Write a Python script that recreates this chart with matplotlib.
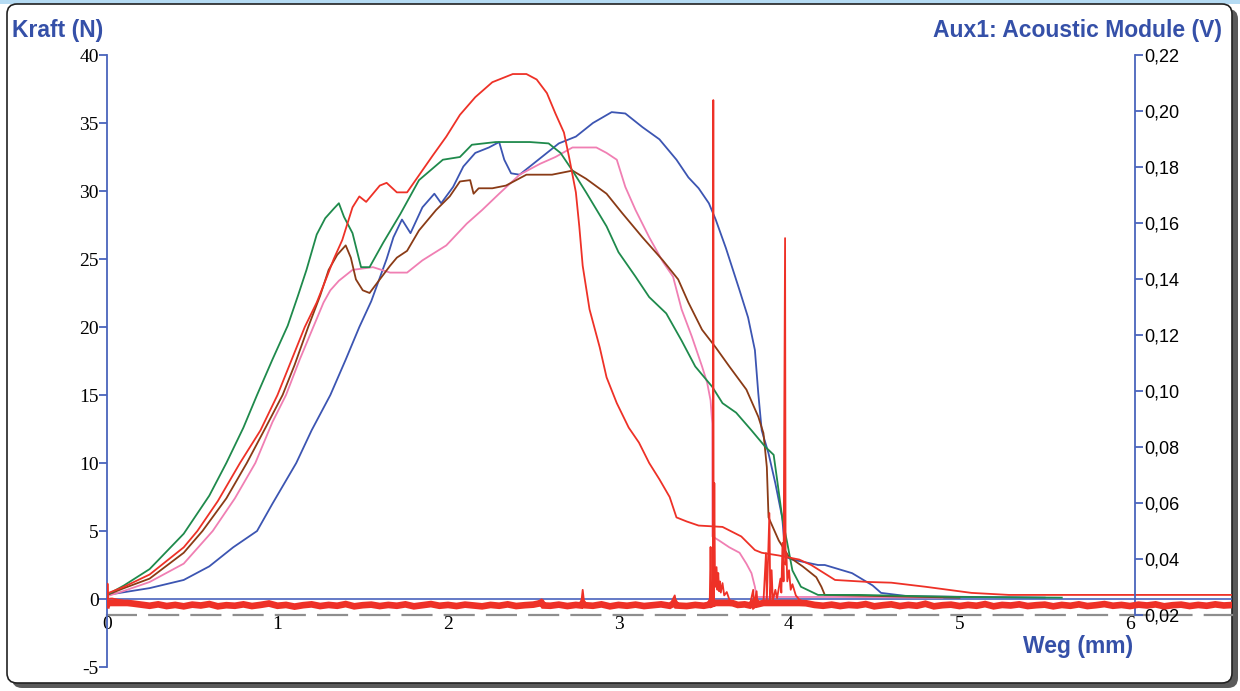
import numpy as np
import matplotlib
matplotlib.use("Agg")
import matplotlib.pyplot as plt
from matplotlib.patches import FancyBboxPatch, Rectangle
from matplotlib.transforms import IdentityTransform
from matplotlib.ticker import FixedLocator, FuncFormatter

# ---------------- data ----------------
green_x = [0, 0.10, 0.25, 0.45, 0.60, 0.70, 0.80, 0.88, 0.97, 1.06, 1.12, 1.17, 1.23, 1.28, 1.33, 1.36,
           1.39, 1.44, 1.49, 1.54, 1.62, 1.72, 1.83, 1.97, 2.07, 2.14, 2.28, 2.48, 2.59, 2.66, 2.73, 2.81,
           2.93, 3.00, 3.10, 3.18, 3.28, 3.37, 3.45, 3.55, 3.61, 3.69, 3.78, 3.86, 3.91, 3.93, 3.96, 3.99,
           4.02, 4.07, 4.17, 4.41, 5.0, 5.6]
green_y = [0.3, 1.0, 2.2, 4.8, 7.6, 10.0, 12.6, 15.0, 17.6, 20.1, 22.3, 24.2, 26.8, 28.0, 28.7, 29.1,
           28.1, 26.9, 24.4, 24.4, 26.2, 28.3, 30.8, 32.3, 32.5, 33.4, 33.6, 33.6, 33.5, 32.8, 31.5, 29.9,
           27.4, 25.5, 23.7, 22.2, 21.0, 19.0, 17.1, 15.6, 14.4, 13.7, 12.4, 11.2, 10.6, 8.8, 6.0, 4.1,
           2.1, 0.9, 0.3, 0.3, 0.15, 0.1]

red_x = [0, 0.10, 0.25, 0.45, 0.53, 0.65, 0.78, 0.90, 1.00, 1.08, 1.16, 1.23, 1.29, 1.33, 1.38, 1.44,
         1.48, 1.52, 1.56, 1.60, 1.64, 1.70, 1.76, 1.81, 1.91, 1.99, 2.07, 2.16, 2.26, 2.32, 2.38, 2.46,
         2.52, 2.58, 2.63, 2.68, 2.71, 2.75, 2.77, 2.79, 2.83, 2.89, 2.93, 2.99, 3.06, 3.12, 3.18, 3.24,
         3.30, 3.34, 3.40, 3.47, 3.61, 3.72, 3.80, 3.84, 3.94, 4.06, 4.13, 4.27, 4.47, 4.60, 4.80, 4.95,
         5.07, 5.29, 6.0, 6.61]
red_y = [0.4, 0.9, 1.8, 3.8, 5.0, 7.2, 10.0, 12.4, 15.0, 17.5, 20.0, 21.8, 23.7, 25.0, 26.4, 28.8,
         29.6, 29.2, 29.8, 30.4, 30.6, 29.9, 29.9, 30.8, 32.6, 34.0, 35.6, 36.9, 38.0, 38.3, 38.6, 38.6,
         38.2, 37.2, 35.7, 34.3, 32.5, 29.9, 27.4, 24.5, 21.3, 18.5, 16.3, 14.4, 12.6, 11.5, 10.0, 8.8,
         7.5, 6.0, 5.7, 5.4, 5.3, 4.6, 3.6, 3.4, 3.2, 2.9, 2.5, 1.4, 1.25, 1.2, 0.9, 0.65,
         0.45, 0.3, 0.3, 0.3]

brown_x = [0, 0.10, 0.25, 0.45, 0.56, 0.70, 0.82, 0.93, 1.03, 1.10, 1.18, 1.25, 1.30, 1.35, 1.40, 1.43,
           1.46, 1.50, 1.54, 1.60, 1.66, 1.70, 1.76, 1.83, 1.93, 2.01, 2.07, 2.13, 2.15, 2.18, 2.26, 2.34,
           2.46, 2.61, 2.73, 2.81, 2.93, 3.02, 3.14, 3.26, 3.35, 3.41, 3.49, 3.57, 3.65, 3.75, 3.82, 3.85,
           3.87, 3.88, 3.94, 4.00, 4.08, 4.16, 4.19, 4.21, 4.6, 5.0]
brown_y = [0.3, 0.8, 1.5, 3.4, 5.0, 7.4, 10.0, 12.6, 15.0, 17.2, 20.0, 22.3, 24.2, 25.3, 26.0, 25.1,
           23.5, 22.7, 22.5, 23.5, 24.5, 25.1, 25.6, 27.1, 28.6, 29.6, 30.7, 30.8, 29.8, 30.2, 30.2, 30.4,
           31.2, 31.2, 31.5, 30.9, 29.8, 28.4, 26.6, 24.9, 23.5, 21.8, 19.8, 18.5, 17.1, 15.4, 13.4, 12.2,
           9.7, 6.0, 4.3, 3.1, 2.4, 1.6, 0.9, 0.3, 0.2, 0.1]

pink_x = [0, 0.10, 0.25, 0.45, 0.62, 0.75, 0.87, 0.97, 1.05, 1.13, 1.21, 1.27, 1.31, 1.36, 1.44, 1.56,
          1.66, 1.76, 1.85, 1.99, 2.11, 2.20, 2.30, 2.42, 2.54, 2.63, 2.73, 2.81, 2.87, 2.93, 2.99, 3.04,
          3.10, 3.18, 3.26, 3.32, 3.37, 3.43, 3.49, 3.52, 3.54, 3.55, 3.551, 3.59, 3.65, 3.71, 3.75, 3.78,
          3.80, 3.81, 4.3, 4.9]
pink_y = [0.2, 0.6, 1.25, 2.6, 5.0, 7.4, 10.0, 13.0, 15.0, 17.6, 20.0, 21.8, 22.7, 23.4, 24.2, 24.4,
          24.0, 24.0, 24.9, 26.0, 27.6, 28.6, 29.8, 31.2, 32.0, 32.5, 33.2, 33.2, 33.2, 32.8, 32.3, 30.3,
          28.6, 26.6, 24.8, 23.7, 21.3, 19.3, 17.1, 15.9, 14.6, 12.9, 4.6, 4.3, 3.8, 3.4, 2.6, 1.9,
          0.9, 0.15, 0.15, 0.1]

blue_x = [0, 0.10, 0.25, 0.45, 0.60, 0.74, 0.88, 0.97, 1.11, 1.20, 1.31, 1.40, 1.48, 1.55, 1.64, 1.68,
          1.73, 1.78, 1.85, 1.92, 1.96, 2.03, 2.09, 2.16, 2.24, 2.30, 2.33, 2.37, 2.42, 2.48, 2.55, 2.65,
          2.75, 2.85, 2.96, 3.04, 3.14, 3.24, 3.34, 3.41, 3.47, 3.53, 3.57, 3.63, 3.71, 3.76, 3.80, 3.82,
          3.84, 3.88, 3.92, 3.96, 3.98, 4.02, 4.17, 4.21, 4.37, 4.49, 4.54, 4.70, 5.5]
blue_y = [0.3, 0.5, 0.8, 1.4, 2.4, 3.8, 5.0, 7.0, 10.0, 12.4, 15.0, 17.6, 20.0, 21.9, 25.0, 26.6,
          27.9, 26.9, 28.8, 29.8, 29.1, 30.3, 31.8, 32.8, 33.2, 33.6, 32.3, 31.3, 31.2, 31.8, 32.5, 33.5,
          34.0, 35.0, 35.8, 35.7, 34.7, 33.8, 32.3, 31.0, 30.2, 29.1, 27.9, 25.8, 22.7, 20.7, 18.3, 15.1,
          12.4, 10.7, 8.5, 6.0, 3.1, 2.9, 2.5, 2.5, 1.9, 1.0, 0.45, 0.2, 0.1]

# acoustic signal (Aux1, volts) -- right axis
aux_x = [0.000, 0.003, 0.006, 0.03, 0.06, 0.09, 0.12, 0.15, 0.20, 0.25, 0.30, 0.35, 0.40, 0.45, 0.50,
         0.55, 0.60, 0.65, 0.70, 0.75, 0.80, 0.85, 0.90, 0.95, 1.00, 1.05, 1.10, 1.15, 1.20, 1.25, 1.30,
         1.35, 1.40, 1.45, 1.50, 1.55, 1.60, 1.65, 1.70, 1.75, 1.80, 1.85, 1.90, 1.95, 2.00, 2.05, 2.10,
         2.15, 2.20, 2.25, 2.30, 2.35, 2.40, 2.45, 2.50, 2.55, 2.56, 2.60, 2.65, 2.70, 2.75, 2.78, 2.79,
         2.80, 2.85, 2.90, 2.95, 3.00, 3.05, 3.10, 3.15, 3.20, 3.25, 3.30, 3.33, 3.34, 3.40, 3.45, 3.50,
         3.535, 3.540, 3.545, 3.554, 3.556, 3.558, 3.562, 3.566, 3.575, 3.580, 3.585, 3.590, 3.595, 3.600,
         3.610, 3.620, 3.635, 3.650, 3.670, 3.700, 3.740, 3.770, 3.790, 3.795, 3.810, 3.815, 3.850, 3.865,
         3.870, 3.885, 3.890, 3.898, 3.905, 3.920, 3.930, 3.950, 3.955, 3.962, 3.968, 3.977, 3.980, 3.985,
         3.990, 4.000, 4.010, 4.020, 4.040, 4.060, 4.100, 4.150, 4.200, 4.25, 4.30, 4.35, 4.40, 4.45,
         4.50, 4.55, 4.60, 4.65, 4.70, 4.75, 4.80, 4.85, 4.90, 4.95, 5.00, 5.05, 5.10, 5.15, 5.20, 5.25,
         5.30, 5.35, 5.40, 5.45, 5.50, 5.55, 5.60, 5.65, 5.70, 5.75, 5.80, 5.85, 5.90, 5.95, 6.00, 6.05,
         6.10, 6.15, 6.20, 6.25, 6.30, 6.35, 6.40, 6.45, 6.50, 6.55, 6.61]
aux_v = [0.0236, 0.0312, 0.0258, 0.0259, 0.0255, 0.0252, 0.0246, 0.0241, 0.0237, 0.0233, 0.0238, 0.0232,
         0.0236, 0.0231, 0.0237, 0.0234, 0.0239, 0.0231, 0.0235, 0.0233, 0.0238, 0.0232, 0.0236, 0.0241,
         0.0233, 0.0236, 0.0230, 0.0235, 0.0238, 0.0232, 0.0236, 0.0233, 0.0239, 0.0231, 0.0235, 0.0237,
         0.0232, 0.0236, 0.0233, 0.0238, 0.0231, 0.0235, 0.0239, 0.0233, 0.0236, 0.0232, 0.0237, 0.0234,
         0.0231, 0.0236, 0.0233, 0.0238, 0.0232, 0.0235, 0.0237, 0.0256, 0.0234, 0.0233, 0.0237, 0.0232,
         0.0236, 0.0234, 0.0290, 0.0235, 0.0233, 0.0238, 0.0231, 0.0236, 0.0233, 0.0237, 0.0232, 0.0235,
         0.0238, 0.0233, 0.0270, 0.0234, 0.0232, 0.0236, 0.0233,
         0.0237, 0.0443, 0.0238, 0.0240, 0.2039, 0.0245, 0.0671, 0.0300, 0.0371, 0.0290, 0.0350, 0.0285,
         0.0320, 0.0280, 0.0314, 0.0270, 0.0282, 0.0255, 0.0242, 0.0236, 0.0238, 0.0234, 0.0290, 0.0236,
         0.0285, 0.0238, 0.0245, 0.0421, 0.0250, 0.0564, 0.0255, 0.0360, 0.0250, 0.0290, 0.0260, 0.0330,
         0.0280, 0.0457, 0.0320, 0.1546, 0.0380, 0.0420, 0.0320, 0.0360, 0.0290, 0.0310, 0.0270, 0.0255,
         0.0242, 0.0236, 0.0233, 0.0237, 0.0232, 0.0236, 0.0234, 0.0239, 0.0231, 0.0235, 0.0238, 0.0232,
         0.0236, 0.0233, 0.0240, 0.0231, 0.0235, 0.0237, 0.0232, 0.0236, 0.0233, 0.0239, 0.0231, 0.0236,
         0.0234, 0.0238, 0.0232, 0.0235, 0.0237, 0.0231, 0.0236, 0.0233, 0.0238, 0.0232, 0.0235, 0.0239,
         0.0233, 0.0236, 0.0232, 0.0237, 0.0234, 0.0238, 0.0231, 0.0235, 0.0237, 0.0232, 0.0236, 0.0233,
         0.0238, 0.0234, 0.0236]

x_ticks = [0, 1, 2, 3, 4, 5, 6]
kraft_ticks = [-5, 0, 5, 10, 15, 20, 25, 30, 35, 40]
aux_ticks = [0.02, 0.04, 0.06, 0.08, 0.10, 0.12, 0.14, 0.16, 0.18, 0.20, 0.22]

# ---------------- styling ----------------
W, H = 1240, 691
TITLE_BLUE = "#3550a8"
AXIS_BLUE = "#4a64bc"
C_GREEN = "#1f8a4c"
C_RED = "#ee3127"
C_BROWN = "#8a3b16"
C_PINK = "#f07fb3"
C_BLUE = "#3c55b2"

fig = plt.figure(figsize=(W / 100, H / 100), dpi=100, facecolor="white")

# light blue strip at the very top, then the rounded frame with a shadow
fig.patches.append(Rectangle((0, H - 4), W, 4, transform=IdentityTransform(),
                             facecolor="#b5dbf3", edgecolor="none", zorder=-10))
fig.patches.append(FancyBboxPatch((12, 3), 1226, 679, boxstyle="round,pad=0,rounding_size=10",
                                  transform=IdentityTransform(), facecolor="#5a5a5a",
                                  edgecolor="none", zorder=-9))
fig.patches.append(FancyBboxPatch((7, 8), 1225, 679, boxstyle="round,pad=0,rounding_size=10",
                                  transform=IdentityTransform(), facecolor="white",
                                  edgecolor="#222222", linewidth=1.2, zorder=-8))

ax_left, ax_right, ax_top, ax_bottom = 107, 1232, 55, 667
ax = fig.add_axes([ax_left / W, (H - ax_bottom) / H, (ax_right - ax_left) / W, (ax_bottom - ax_top) / H])
ax.set_facecolor("none")
px_per_mm = 170.5
ax.set_xlim(0, (ax_right - ax_left) / px_per_mm)
ax.set_ylim(-5, 40)

ax2 = ax.twinx()
ax2.set_facecolor("none")
px_per_volt = 2800.0
ax2.set_ylim(0.22 - (ax_bottom - ax_top) / px_per_volt, 0.22)

# zero line of force axis
ax.axhline(0, color=AXIS_BLUE, lw=1.2, zorder=1)

# force curves
for xs, ys, c in [(blue_x, blue_y, C_BLUE), (pink_x, pink_y, C_PINK), (brown_x, brown_y, C_BROWN),
                  (green_x, green_y, C_GREEN), (red_x, red_y, C_RED)]:
    ax.plot(xs, ys, color=c, lw=1.3, zorder=3)

# acoustic signal: a thick noisy band plus thin spikes
aux_v_arr = np.array(aux_v)
ax2.plot(aux_x, np.minimum(aux_v_arr, 0.0243), color=C_RED, lw=4.8, zorder=4, solid_joinstyle="miter")
ax2.plot(aux_x, aux_v_arr, color=C_RED, lw=1.3, zorder=4)

# ---------------- axes styling ----------------
for s in ["top", "right"]:
    ax.spines[s].set_visible(False)
ax.spines["left"].set_color(AXIS_BLUE)
ax.spines["left"].set_linewidth(1.3)
ax.spines["left"].set_bounds(-5, 40)

zero_x_axis = 40 - (615 - ax_top) / ((ax_bottom - ax_top) / 45.0)
ax.spines["bottom"].set_position(("data", zero_x_axis))
ax.spines["bottom"].set_color("#8e8e8e")
ax.spines["bottom"].set_linewidth(1.6)
ax.spines["bottom"].set_linestyle((0, (13, 6)))
ax.spines["bottom"].set_zorder(0.5)

ax.xaxis.set_major_locator(FixedLocator(x_ticks))
ax.xaxis.set_major_formatter(FuncFormatter(lambda v, p: f"{int(round(v))}"))
ax.tick_params(axis="x", length=0, pad=1, labelsize=14, labelcolor="black")
ax.yaxis.set_major_locator(FixedLocator(kraft_ticks))
ax.yaxis.set_major_formatter(FuncFormatter(lambda v, p: f"{int(round(v))}"))
ax.tick_params(axis="y", direction="out", length=6, width=1.3, color=AXIS_BLUE, pad=0,
               labelsize=14, labelcolor="black")
for lab in ax.get_xticklabels() + ax.get_yticklabels():
    lab.set_fontfamily("Liberation Serif")

for s in ["top", "left", "bottom"]:
    ax2.spines[s].set_visible(False)
ax2.spines["right"].set_position(("data", (1135 - ax_left) / px_per_mm))
ax2.spines["right"].set_color(AXIS_BLUE)
ax2.spines["right"].set_linewidth(1.3)
ax2.spines["right"].set_bounds(0.02, 0.22)
ax2.yaxis.set_major_locator(FixedLocator(aux_ticks))
ax2.yaxis.set_major_formatter(FuncFormatter(lambda v, p: f"{v:.2f}".replace(".", ",")))
ax2.tick_params(axis="y", direction="out", length=6, width=1.3, color=AXIS_BLUE, pad=1,
                labelsize=13, labelcolor="black")
for lab in ax2.get_yticklabels():
    lab.set_fontfamily("Liberation Sans")

# titles
tkw = dict(fontsize=16.5, fontweight="bold", color=TITLE_BLUE, family="Liberation Sans")
fig.text(12 / W, 1 - 30 / H, "Kraft (N)", ha="left", va="center", **tkw)
fig.text(1222 / W, 1 - 30 / H, "Aux1: Acoustic Module (V)", ha="right", va="center", **tkw)
fig.text(1133 / W, 1 - 647 / H, "Weg (mm)", ha="right", va="center", **tkw)

fig.savefig("out.png", dpi=100, facecolor="white")
